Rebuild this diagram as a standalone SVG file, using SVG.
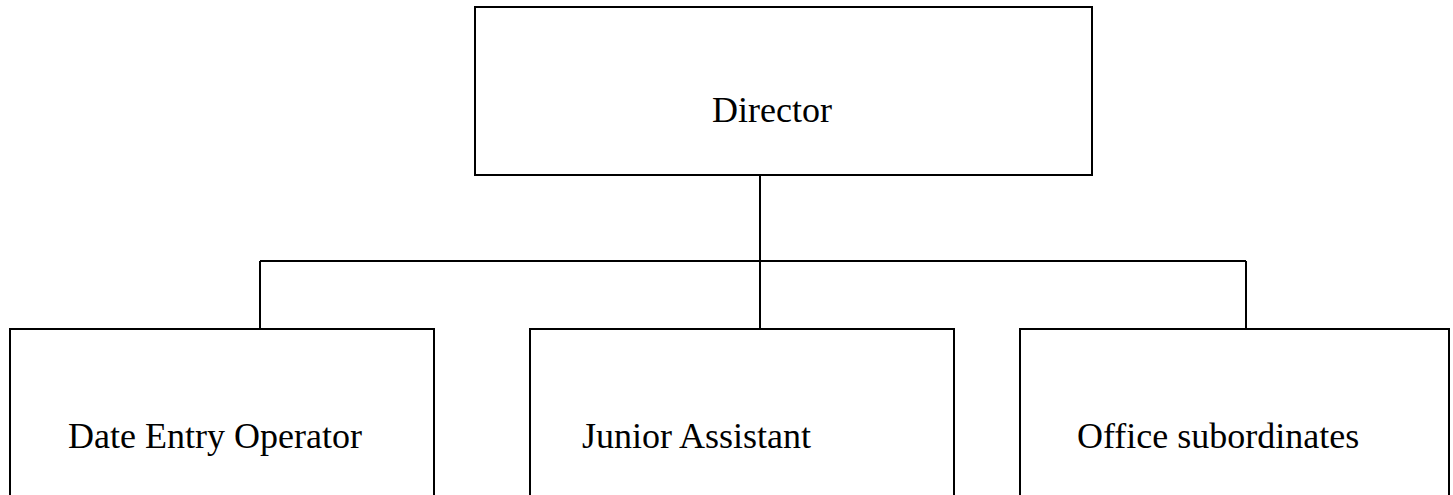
<svg xmlns="http://www.w3.org/2000/svg" width="1453" height="495" viewBox="0 0 1453 495">
  <style>
    .box { fill: #ffffff; stroke: #000000; stroke-width: 2; }
    .conn { fill: none; stroke: #000000; stroke-width: 2; }
    .lbl { font-family: "Liberation Serif", "Times New Roman", serif; font-size: 36px; fill: #000000; }
  </style>
  <rect width="1453" height="495" fill="#ffffff"/>
  <g id="connectors">
    <path class="conn" d="M760 175 V261"/>
    <path class="conn" d="M260 261 H1246"/>
    <path class="conn" d="M260 261 V329"/>
    <path class="conn" d="M760 261 V329"/>
    <path class="conn" d="M1246 261 V329"/>
  </g>
  <g id="director">
    <rect class="box" x="475" y="7" width="617" height="168"/>
    <text class="lbl" x="712" y="122">Director</text>
  </g>
  <g id="data-entry-operator">
    <rect class="box" x="10" y="329" width="424" height="200"/>
    <text class="lbl" x="68" y="448">Date Entry Operator</text>
  </g>
  <g id="junior-assistant">
    <rect class="box" x="530" y="329" width="424" height="200"/>
    <text class="lbl" x="582" y="448">Junior Assistant</text>
  </g>
  <g id="office-subordinates">
    <rect class="box" x="1020" y="329" width="429" height="200"/>
    <text class="lbl" x="1077" y="448">Office subordinates</text>
  </g>
</svg>
